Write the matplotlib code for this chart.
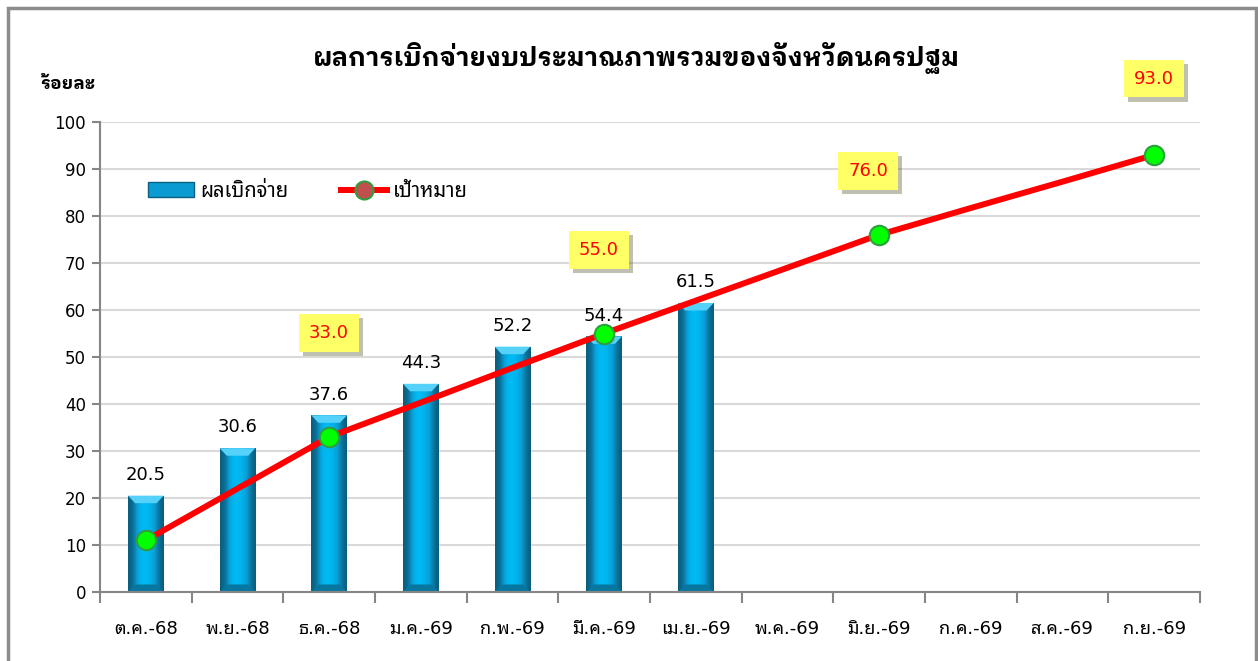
import numpy as np
import matplotlib
matplotlib.use("Agg")
import matplotlib.pyplot as plt
import matplotlib.patheffects as pe
from matplotlib.lines import Line2D
from matplotlib.patches import Rectangle
from matplotlib.transforms import IdentityTransform

# data
months = ["ต.ค.-68", "พ.ย.-68", "ธ.ค.-68", "ม.ค.-69", "ก.พ.-69", "มี.ค.-69",
          "เม.ย.-69", "พ.ค.-69", "มิ.ย.-69", "ก.ค.-69", "ส.ค.-69", "ก.ย.-69"]
actual = [20.5, 30.6, 37.6, 44.3, 52.2, 54.4, 61.5]
target = [11.0, 22.0, 33.0, 40.3, 47.7, 55.0, 62.0, 69.0, 76.0, 81.7, 87.3, 93.0]
target_marked = [0, 2, 5, 8, 11]      # months with a marker
target_labelled = [2, 5, 8, 11]       # months with a label box

title = "ผลการเบิกจ่ายงบประมาณภาพรวมของจังหวัดนครปฐม"
ylabel = "ร้อยละ"
legend_labels = ["ผลเบิกจ่าย", "เป้าหมาย"]

# DejaVu for digits (Tahoma-like), a looped Thai face for the Thai glyphs
plt.rcParams["font.family"] = ["DejaVu Sans", "Noto Sans Thai Looped"]
bold_fam = ["DejaVu Sans", "IBM Plex Sans Thai Looped"]

fig = plt.figure(figsize=(12.58, 6.61), dpi=100)
ax = fig.add_axes([100 / 1258, 69 / 661, 1100 / 1258, 470 / 661])

x = np.arange(len(months))
xa = np.arange(len(actual))

# bars with bevel-like gradient
bars = ax.bar(xa, actual, width=0.39, color="#00B0F0", zorder=2)
grad = np.array([0.0, 0.15, 0.5, 1.0, 1.0, 1.0, 0.8, 0.5, 0.2, 0.0])
cmap = matplotlib.colors.LinearSegmentedColormap.from_list(
    "bev", ["#0B5F80", "#0A9BD2", "#00B8F2"])
for b in bars:
    x0, w, h = b.get_x(), b.get_width(), b.get_height()
    im = ax.imshow(grad[None, :], cmap=cmap, vmin=0, vmax=1, aspect="auto",
                   extent=(x0, x0 + w, 0, h), zorder=2.1, interpolation="bicubic")
    im.set_clip_path(b)
    top = h - 1.6
    ax.fill([x0, x0 + w, x0 + w * 0.8, x0 + w * 0.2], [h, h, top, top],
            color="#55D2FA", zorder=2.2, lw=0)
    ax.fill([x0, x0 + w, x0 + w * 0.8, x0 + w * 0.2], [0, 0, 1.6, 1.6],
            color="#08779F", zorder=2.2, lw=0)
    ax.text(b.get_x() + w / 2, h + 2.5, f"{h:.1f}", ha="center", va="bottom",
            fontsize=13, color="black")

# target line
ax.plot(x, target, color="#FF0000", lw=4.3, zorder=3, solid_capstyle="round")
ax.plot(x[target_marked], np.array(target)[target_marked], ls="none", marker="o",
        ms=14, mfc="#00FF00", mec="#2E9E3E", mew=1.5, zorder=4)

label_offsets = {2: (0, 75), 5: (-4, 60), 8: (-8, 46), 11: (0, 55)}
for i in target_labelled:
    dx, dy = label_offsets[i]
    t = ax.annotate(f"{target[i]:.1f}", (x[i], target[i]), xytext=(dx, dy),
                    textcoords="offset points", ha="center", va="center",
                    fontsize=13, color="#FF0000", zorder=5, annotation_clip=False,
                    bbox=dict(boxstyle="square,pad=0.55", fc="#FFFF66", ec="none"))
    t.get_bbox_patch().set_path_effects(
        [pe.SimplePatchShadow(offset=(3, -3), alpha=0.35), pe.Normal()])

# axes styling
ax.set_ylim(0, 100)
ax.set_xlim(-0.5, len(months) - 0.5)
ax.set_yticks(np.arange(0, 101, 10))
ax.tick_params(axis="y", labelsize=12, length=6, width=1.5, color="#868686", pad=4)
ax.set_xticks(np.arange(-0.5, len(months), 1.0))
ax.set_xticklabels([])
ax.set_xticks(x, minor=True)
ax.set_xticklabels(months, minor=True, fontsize=13)
ax.tick_params(axis="x", which="major", length=8, width=1.5, color="#868686")
ax.tick_params(axis="x", which="minor", length=0, pad=20)
ax.grid(axis="y", color="#D9D9D9", lw=1.5, zorder=0)
ax.set_axisbelow(True)
for s in ["top", "right"]:
    ax.spines[s].set_visible(False)
for s in ["left", "bottom"]:
    ax.spines[s].set_color("#868686")
    ax.spines[s].set_linewidth(1.5)

fig.text(636 / 1258, 1 - 58 / 661, title, ha="center", va="center",
         fontsize=18.5, fontweight="bold", family=bold_fam)
fig.text(40 / 1258, 1 - 84 / 661, ylabel, ha="left", va="center",
         fontsize=13, fontweight="bold", family=bold_fam)

# legend
h_bar = Rectangle((0, 0), 1, 1, fc="#0A9BD2", ec="#0B5F80")
h_line = Line2D([], [], color="#FF0000", lw=4.3, marker="o", ms=13,
                mfc="#C0504D", mec="#2E9E3E", mew=1.5)
ax.legend([h_bar, h_line], legend_labels, loc="center left",
          bbox_to_anchor=(0.027, 0.853), ncol=2, frameon=False, fontsize=14.5,
          handlelength=2.3, columnspacing=2.6, handletextpad=0.3)

# outer chart border
fig.patches.append(Rectangle((8, -50), 1248, 703, transform=IdentityTransform(),
                             fill=False, ec="#8C8C8C", lw=2.5))

fig.savefig("out.png", dpi=100)
